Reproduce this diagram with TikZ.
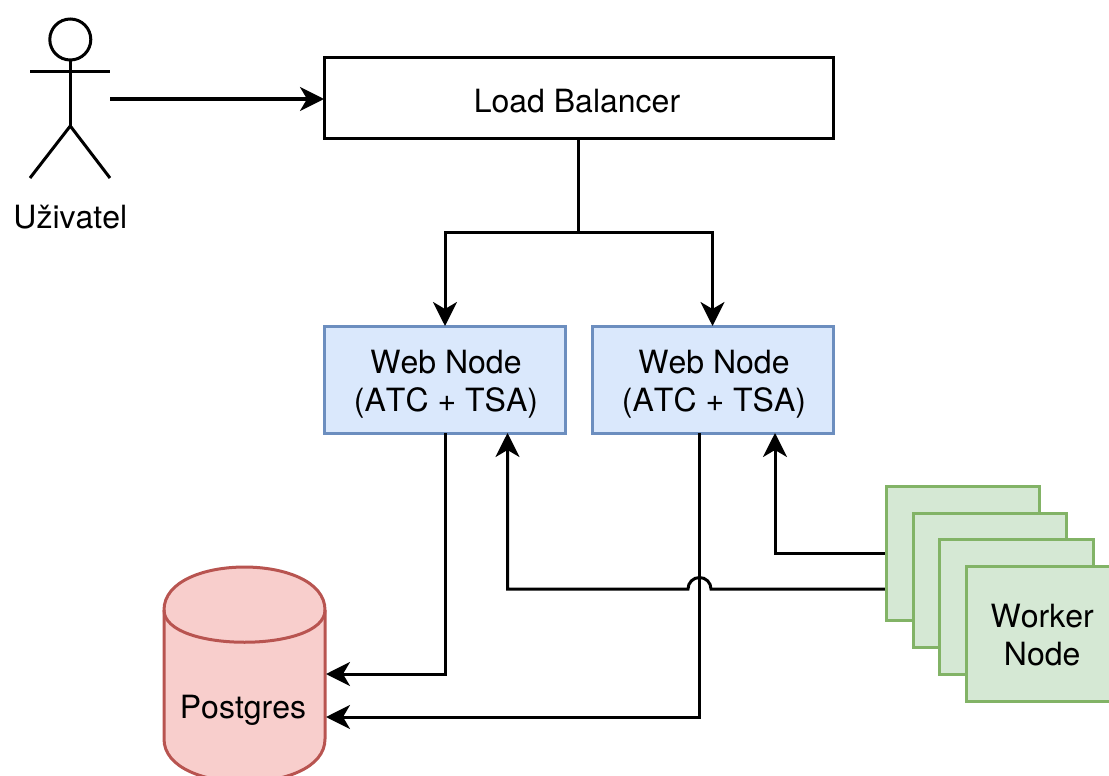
\documentclass[tikz,border=0pt]{standalone}
\usepackage{fontspec}
\setmainfont[Kerning=Off]{TeX Gyre Heros}
\usetikzlibrary{arrows.meta}
\definecolor{bluefill}{HTML}{DAE8FC}
\definecolor{blueline}{HTML}{6C8EBF}
\definecolor{greenfill}{HTML}{D5E8D4}
\definecolor{greenline}{HTML}{82B366}
\definecolor{redfill}{HTML}{F8CECC}
\definecolor{redline}{HTML}{B85450}
\tikzset{
  boxbase/.style={draw,line width=3pt,inner sep=0pt,outer sep=0pt,align=center,font=\fontsize{32}{38.4}\selectfont},
  lbbox/.style={boxbase,draw=black,fill=white,minimum width=509pt,minimum height=80pt},
  webbox/.style={boxbase,draw=blueline,fill=bluefill,minimum width=241pt,minimum height=107pt},
  workerbox/.style={boxbase,draw=greenline,fill=greenfill,minimum width=153.5pt,minimum height=134.5pt},
  txt/.style={inner sep=0pt,outer sep=0pt,align=center,font=\fontsize{32}{38.4}\selectfont},
  conn/.style={line width=3pt,black,line join=miter},
  arr/.style={conn,-{Stealth[length=24pt,width=24pt,inset=7pt]}},
  actorline/.style={line width=3pt,black}
}
\begin{document}
\begin{tikzpicture}[x=1pt,y=-1pt]
\useasboundingbox (0,0) rectangle (1109,776);
\clip (0,0) rectangle (1109,776);
% actor
\node[draw,line width=3pt,circle,minimum size=41pt,inner sep=0pt,outer sep=0pt] (head) at (70.3,39.5) {};
\coordinate (hip) at (70.3,126);
\coordinate (handl) at (30,72);
\coordinate (handr) at (110,72);
\coordinate (footl) at (30,178);
\coordinate (footr) at (110,178);
\draw[actorline] (head.south) -- (hip);
\draw[actorline] (handl) -- (handr);
\draw[actorline] (footl) -- (hip) -- (footr);
\node[txt] (user) at (70.3,217) {Uživatel};
\coordinate (actorout) at (110,99);
% boxes
\node[lbbox,label={[txt,xshift=-1.5pt,yshift=-3pt]center:Load Balancer}] (lb) at (578.5,98) {};
\node[webbox,label={[txt,xshift=1pt,yshift=-4.5pt]center:{Web Node\\(ATC + TSA)}}] (web1) at (445,379.5) {};
\node[webbox,label={[txt,xshift=1.5pt,yshift=-4.5pt]center:{Web Node\\(ATC + TSA)}}] (web2) at (712.5,379.5) {};
% cylinder
\draw[line width=3pt,draw=redline,fill=redfill]
  (164,610) .. controls (164,552.7) and (325,552.7) .. (325,610)
  -- (325,739) .. controls (325,796.3) and (164,796.3) .. (164,739) -- cycle;
\draw[line width=3pt,draw=redline]
  (164,610) .. controls (164,653) and (325,653) .. (325,610);
\node[txt] (pg) at (243,710) {Postgres};
% connectors
\coordinate (lbsplit) at (lb.south |- 0,232);
\draw[arr] (lb.south) -- (lbsplit) -| (web1.north);
\draw[arr] (lbsplit) -| (web2.north);
\draw[arr] (actorout) -- (actorout -| lb.west);
\coordinate (pgin1) at (326,674);
\coordinate (pgin2) at (326,717);
\coordinate (web2out) at (699.5,433);
\draw[arr] (web1.south) |- (pgin1);
\draw[arr] (web2out) |- (pgin2);
\coordinate (web1in) at (507.5,433);
\coordinate (web2in) at (775,433);
\coordinate (w1out) at (887,589);
\coordinate (w2out) at (887,553);
\draw[arr] (w2out) -| (web2in);
\draw[arr] (w1out) -- (711,589) arc[start angle=0,end angle=180,radius=11.5pt] -- (web1in |- w1out) -- (web1in);
% workers
\node[workerbox] (w1) at (963,553.7) {};
\node[workerbox] (w2) at (990,580.5) {};
\node[workerbox] (w3) at (1016.7,607) {};
\node[workerbox,label={[txt,xshift=-1.5pt,yshift=-1pt]center:{Worker\\Node}}] (w4) at (1043.7,634) {};
\end{tikzpicture}
\end{document}
